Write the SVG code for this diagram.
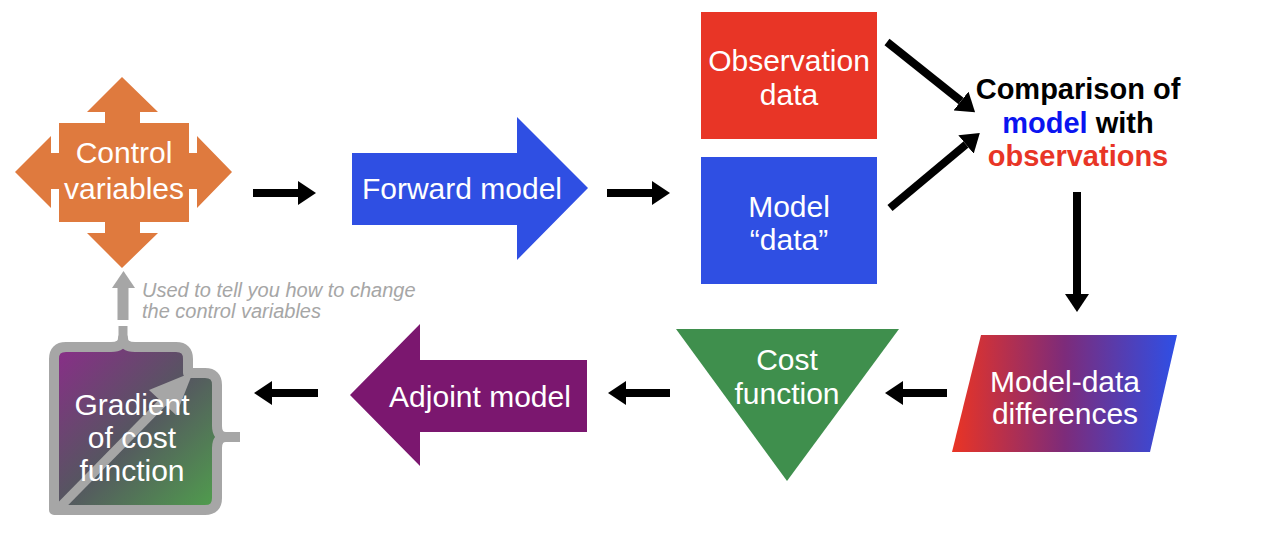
<svg xmlns="http://www.w3.org/2000/svg" width="1264" height="540" viewBox="0 0 1264 540">
<style>
  text { font-family: "Liberation Sans", Arial, sans-serif; }
  .lbl { fill: #ffffff; font-size: 30px; text-anchor: middle; }
  .cmp { font-size: 29px; font-weight: bold; text-anchor: middle; fill: #000000; }
  .blue { fill: #0a14f0; }
  .red { fill: #e83526; }
  .note { fill: #a6a6a6; font-size: 20px; font-style: italic; }
  .conn { stroke: #000000; stroke-width: 8; fill: none; marker-end: url(#ah); }
  .gray { fill: #a6a6a6; }
</style>
<defs>
  <marker id="ah" markerUnits="userSpaceOnUse" markerWidth="18" markerHeight="24" viewBox="0 0 18 24" refX="0" refY="12" orient="auto">
    <path d="M0,0 L18,12 L0,24 Z" fill="#000000"/>
  </marker>
  <linearGradient id="diffGrad" x1="0" y1="0" x2="1" y2="0">
    <stop offset="0" stop-color="#ea3424"/>
    <stop offset="0.5" stop-color="#7d2b7a"/>
    <stop offset="1" stop-color="#2e4fe6"/>
  </linearGradient>
  <linearGradient id="gradGrad" x1="0" y1="0" x2="1" y2="1">
    <stop offset="0" stop-color="#8e2a8c"/>
    <stop offset="0.5" stop-color="#555660"/>
    <stop offset="1" stop-color="#4fa44b"/>
  </linearGradient>
</defs>
<rect width="1264" height="540" fill="#ffffff"/>

<g id="control-variables">
  <path d="M 122 77 L 158 112 L 140 112 L 140 123 L 189 123 L 189 153 L 197 153 L 197 136 L 232 172 L 197 208 L 197 189 L 189 189 L 189 222 L 140 222 L 140 233 L 158 233 L 122 268 L 87 233 L 105 233 L 105 222 L 59 222 L 59 189 L 51 189 L 51 208 L 15 172 L 51 136 L 51 153 L 59 153 L 59 123 L 105 123 L 105 112 L 87 112 Z" fill="#df7a3e"/>
  <text class="lbl" x="124" y="163">Control</text>
  <text class="lbl" x="124" y="199">variables</text>
</g>

<g id="forward-model">
  <path d="M 352 153 L 517 153 L 517 117 L 588 188 L 517 260 L 517 225 L 352 225 Z" fill="#2f4fe3"/>
  <text class="lbl" x="462" y="199">Forward model</text>
</g>

<g id="observation-data">
  <rect x="701" y="12" width="176" height="127" fill="#e83526"/>
  <text class="lbl" x="789" y="71" font-size="29">Observation</text>
  <text class="lbl" x="789" y="105">data</text>
</g>

<g id="model-data">
  <rect x="701" y="157" width="176" height="127" fill="#2f4fe3"/>
  <text class="lbl" x="789" y="217">Model</text>
  <text class="lbl" x="789" y="250">“data”</text>
</g>

<g id="comparison">
  <text class="cmp" x="1078" y="99">Comparison of</text>
  <text class="cmp" x="1078" y="133"><tspan class="blue">model</tspan> with</text>
  <text class="cmp" x="1078" y="166"><tspan class="red">observations</tspan></text>
</g>

<g id="model-data-differences">
  <path d="M 981 335 L 1177 335 L 1150 452 L 952 452 Z" fill="url(#diffGrad)"/>
  <text class="lbl" x="1065" y="392">Model-data</text>
  <text class="lbl" x="1065" y="424">differences</text>
</g>

<g id="cost-function">
  <path d="M 676 329 L 899 329 L 787 481 Z" fill="#3f8f4d"/>
  <text class="lbl" x="787" y="370">Cost</text>
  <text class="lbl" x="787" y="404">function</text>
</g>

<g id="adjoint-model">
  <path d="M 587 360 L 420 360 L 420 324 L 350 395 L 420 466 L 420 432 L 587 432 Z" fill="#7b176f"/>
  <text class="lbl" x="480" y="407">Adjoint model</text>
</g>

<g id="gradient">
  <path d="M 54 510 L 54 359 Q 54 347 66 347 L 111 347 Q 123 347 123 338 Q 123 347 135 347 L 176 347 Q 188 347 188 359 L 188 373 L 205 373 Q 217 373 217 385 L 217 426 Q 217 437 226 437 Q 217 437 217 448 L 217 498 Q 217 510 205 510 Z" fill="url(#gradGrad)" stroke="#a6a6a6" stroke-width="10" stroke-linejoin="round"/>
  <line x1="123" y1="342" x2="123" y2="326" stroke="#a6a6a6" stroke-width="9"/>
  <line x1="220" y1="437" x2="240" y2="437" stroke="#a6a6a6" stroke-width="10"/>
  <line x1="60" y1="507" x2="165" y2="400" stroke="#a6a6a6" stroke-width="9"/>
  <path d="M 149 390 L 176 415 L 193 372 Z" class="gray"/>
  <text class="lbl" x="132" y="415">Gradient</text>
  <text class="lbl" x="132" y="448">of cost</text>
  <text class="lbl" x="132" y="481">function</text>
</g>

<g id="feedback-note">
  <rect x="117.5" y="286" width="11" height="34" class="gray"/>
  <path d="M 112 288 L 135 288 L 123.5 271 Z" class="gray"/>
  <text class="note" x="142" y="297">Used to tell you how to change</text>
  <text class="note" x="142" y="318">the control variables</text>
</g>

<g id="connectors">
  <line class="conn" x1="253" y1="193" x2="298" y2="193"/>
  <line class="conn" x1="607" y1="193" x2="652" y2="193"/>
  <line class="conn" x1="887" y1="42" x2="961" y2="101"/>
  <line class="conn" x1="890" y1="208" x2="966" y2="144.5"/>
  <line class="conn" x1="1077" y1="192" x2="1077" y2="294"/>
  <line class="conn" x1="947" y1="393" x2="903" y2="393"/>
  <line class="conn" x1="670" y1="393" x2="626" y2="393"/>
  <line class="conn" x1="318" y1="393" x2="272" y2="393"/>
</g>
</svg>
